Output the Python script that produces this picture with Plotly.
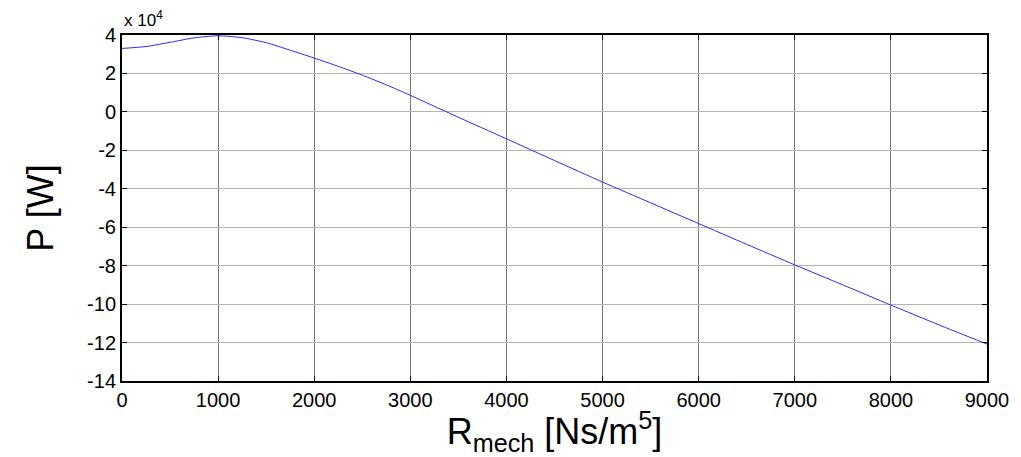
import plotly.graph_objects as go

# Mechanical resistance sweep [Ns/m^5]
r_mech = [0, 250, 500, 750, 1000, 1250, 1500, 1750, 2000, 2250, 2500, 2750,
          3000, 3500, 4000, 4500, 5000, 5500, 6000, 6500, 7000, 7500, 8000,
          8500, 9000]
# Power, in units of 1e4 W
power_e4 = [3.30, 3.40, 3.62, 3.85, 3.96, 3.86, 3.60, 3.21, 2.80, 2.37, 1.91,
            1.41, 0.86, -0.28, -1.40, -2.53, -3.65, -4.73, -5.81, -6.89, -7.96,
            -9.00, -10.05, -11.08, -12.08]

x_ticks = [0, 1000, 2000, 3000, 4000, 5000, 6000, 7000, 8000, 9000]
y_ticks = [4, 2, 0, -2, -4, -6, -8, -10, -12, -14]

font_family = "Liberation Sans, Arial, sans-serif"

fig = go.Figure()
fig.add_trace(go.Scatter(
    x=r_mech, y=power_e4, mode="lines", line_shape="spline",
    line=dict(color="#2a2aff", width=1, smoothing=0.6),
    showlegend=False, hoverinfo="skip",
))

fig.update_layout(
    width=1021, height=457,
    margin=dict(l=122, r=31, t=35, b=73),
    paper_bgcolor="white", plot_bgcolor="white",
    font=dict(family=font_family, color="black"),
    xaxis=dict(
        range=[0, 9000], tickvals=x_ticks, ticktext=[str(v) for v in x_ticks],
        showgrid=True, gridcolor="#7a7a7a", gridwidth=1,
        showline=True, linecolor="black", linewidth=2, mirror="ticks",
        ticks="inside", ticklen=5, tickcolor="black",
        tickfont=dict(size=20), zeroline=False,
        title=dict(text="R<sub>mech</sub> [Ns/m<sup>5</sup>]",
                   font=dict(size=36), standoff=9),
    ),
    yaxis=dict(
        range=[-14, 4], tickvals=y_ticks, ticktext=[str(v) for v in y_ticks],
        showgrid=True, gridcolor="#b4b4b4", gridwidth=1,
        showline=True, linecolor="black", linewidth=2, mirror="ticks",
        ticks="inside", ticklen=5, tickcolor="black",
        tickfont=dict(size=20), zeroline=False,
        title=dict(text="P [W]", font=dict(size=36), standoff=22),
    ),
    annotations=[dict(
        text="x 10<sup>4</sup>", xref="paper", yref="paper",
        x=0, y=1, xanchor="left", yanchor="bottom", yshift=3,
        showarrow=False, font=dict(size=17),
    )],
)

fig.write_html("out.html")
